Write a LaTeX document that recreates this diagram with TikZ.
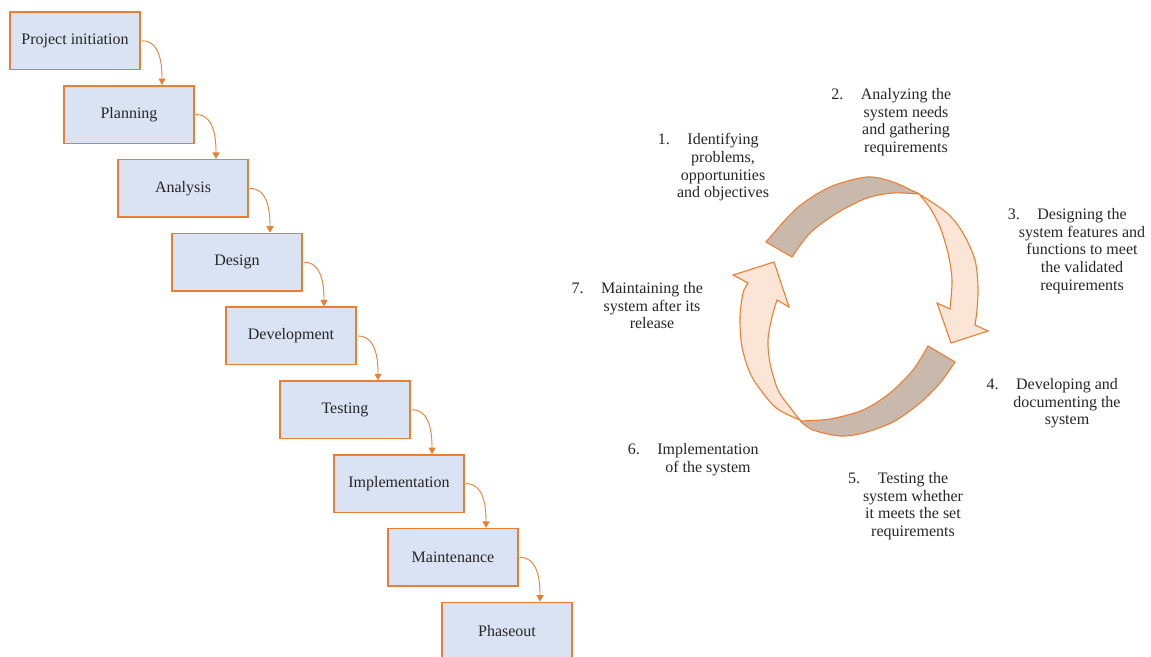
\documentclass[tikz,border=0pt]{standalone}
\usepackage{fontspec}
\setmainfont{Liberation Serif}
\usetikzlibrary{arrows.meta}
\definecolor{boxfill}{HTML}{DAE3F3}
\definecolor{accent}{HTML}{ED7D31}
\definecolor{bandbrown}{HTML}{C9B9AD}
\definecolor{peach}{HTML}{FBE5D6}
\definecolor{txt}{HTML}{262626}
\begin{document}
\begin{tikzpicture}[x=1pt,y=-1pt,
  stagebox/.style={draw=accent, fill=boxfill, line width=1.5pt, minimum width=130pt, minimum height=57.5pt, inner sep=0pt, font=\fontsize{16}{19}\selectfont, text=txt},
  flow/.style={draw=accent, line width=0.9pt, -{Triangle[width=7pt,length=6.5pt]}},
  band/.style={draw=accent, fill=bandbrown, line width=1.1pt, line join=round},
  ribbon/.style={draw=accent, fill=peach, line width=1.1pt, line join=miter},
  steptext/.style={align=center, anchor=north, inner sep=0pt, font=\fontsize{16}{17.8}\selectfont, text=txt}
]
\useasboundingbox (0,0) rectangle (1151,656);

% waterfall boxes
\node[stagebox] (b1) at (75,40.75) {Project initiation};
\node[stagebox] (b2) at (129,114.55) {Planning};
\node[stagebox] (b3) at (183,188.35) {Analysis};
\node[stagebox] (b4) at (237,262.15) {Design};
\node[stagebox] (b5) at (291,335.95) {Development};
\node[stagebox] (b6) at (345,409.75) {Testing};
\node[stagebox] (b7) at (399,483.55) {Implementation};
\node[stagebox] (b8) at (453,557.35) {Maintenance};
\node[stagebox] (b9) at (507,631.15) {Phaseout};

\foreach \a/\b in {b1/b2,b2/b3,b3/b4,b4/b5,b5/b6,b6/b7,b7/b8,b8/b9}{
  \draw[flow] ([xshift=1pt]\a.east) to[out=0,in=90] ([xshift=33pt]\b.north);
}

% cycle: top band
\path[band] plot[smooth] coordinates {(766,242) (797,208) (830,187) (867,177) (893,182) (919,194)}
  -- plot[smooth] coordinates {(919,194) (893,193) (867,198) (837,213) (810,233) (792,257)} -- cycle;
% right arrow
\path[ribbon] plot[smooth] coordinates {(919,194) (947,213) (963,233) (975,260) (978,287) (977,310) (975,325)}
  -- (988,331) -- (951,343) -- (937,303) -- (950,309)
  -- plot[smooth] coordinates {(950,309) (952,280) (948,253) (940,227) (930,208) (919,194)} -- cycle;
% bottom band
\path[band] (928,346) -- (955,362)
  -- plot[smooth] coordinates {(955,362) (940,383) (920,403) (893,422) (863,433) (840,436) (813,430) (800,421)}
  -- plot[smooth] coordinates {(800,421) (830,419) (863,410) (890,393) (913,370) (928,346)} -- cycle;
% left arrow
\path[ribbon] plot[smooth] coordinates {(800,420) (775,407) (752,377) (742,347) (740,317) (743,293) (748,283)}
  -- (733,275) -- (774,262) -- (789,307) -- (777,300)
  -- plot[smooth] coordinates {(777,300) (772,317) (768,340) (770,363) (778,390) (792,410) (800,420)} -- cycle;

% step labels
\node[steptext] (s1) at (723,133) {\llap{1.\hspace{1.1em}}Identifying\\problems,\\opportunities\\and objectives};
\node[steptext] (s2) at (906,88) {\llap{2.\hspace{1.1em}}Analyzing the\\system needs\\and gathering\\requirements};
\node[steptext] (s3) at (1082,208) {\llap{3.\hspace{1.1em}}Designing the\\system features and\\functions to meet\\the validated\\requirements};
\node[steptext] (s4) at (1067,378) {\llap{4.\hspace{1.1em}}Developing and\\documenting the\\system};
\node[steptext] (s5) at (913,472) {\llap{5.\hspace{1.1em}}Testing the\\system whether\\it meets the set\\requirements};
\node[steptext] (s6) at (708,443) {\llap{6.\hspace{1.1em}}Implementation\\of the system};
\node[steptext] (s7) at (652,282) {\llap{7.\hspace{1.1em}}Maintaining the\\system after its\\release};
\end{tikzpicture}
\end{document}
